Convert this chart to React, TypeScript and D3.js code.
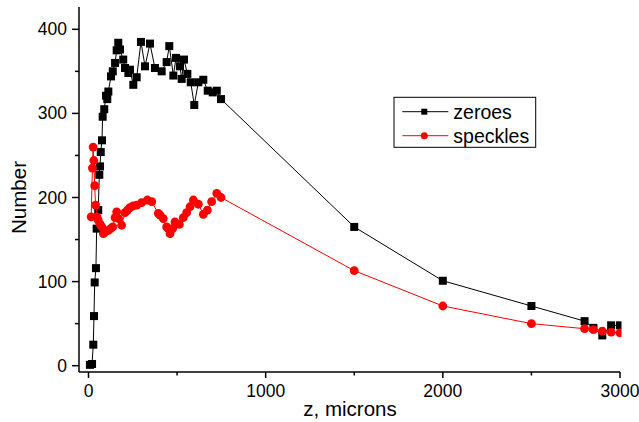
import React from "react";
import * as d3 from "d3";

const zeroesX = [8, 20, 27, 31, 35, 42, 46, 55, 61, 65, 69, 76, 80, 89, 99, 106, 112, 127, 137, 150, 159, 168, 178, 196, 206, 225, 234, 253, 272, 296, 319, 347, 375, 413, 441, 456, 479, 494, 516, 526, 539, 558, 577, 597, 620, 648, 673, 701, 724, 748, 1500, 2000, 2500, 2800, 2850, 2900, 2950, 3000];
const zeroesY = [1, 2, 25, 59, 99, 116, 163, 185, 227, 237, 254, 268, 296, 305, 321, 317, 326, 344, 350, 360, 375, 384, 376, 364, 354, 348, 352, 334, 343, 385, 356, 383, 354, 350, 361, 380, 345, 366, 356, 341, 364, 347, 337, 310, 337, 340, 327, 325, 327, 317, 165, 101, 71, 53, 45, 36, 48, 48];

const speckX = [15, 22, 26, 30, 35, 40, 48, 55, 66, 75, 84, 95, 112, 125, 137, 150, 159, 170, 187, 206, 220, 234, 252, 272, 300, 332, 357, 394, 404, 422, 441, 450, 460, 475, 488, 513, 535, 554, 573, 592, 620, 648, 671, 695, 724, 748, 1500, 2000, 2500, 2800, 2850, 2900, 2950, 3000];
const speckY = [177, 235, 260, 244, 214, 191, 177, 173, 168, 165, 157, 159, 161, 163, 165, 176, 183, 175, 167, 182, 185, 188, 190, 191, 194, 197, 195, 181, 179, 175, 165, 163, 157, 163, 171, 168, 176, 182, 189, 197, 192, 180, 185, 195, 205, 200, 113, 71, 50, 44, 43, 41, 40, 39];

const xMajor = [0, 1000, 2000, 3000];
const xMinor = [500, 1500, 2500];
const yMajor = [0, 100, 200, 300, 400];
const yMinor = [50, 150, 250, 350];
const seriesNames = ["zeroes", "speckles"];

const W = 639;
const H = 422;
const FONT = "'Liberation Sans', Arial, sans-serif";

export default function App() {
  const x = d3.scaleLinear().domain([0, 3000]).range([88.5, 620]);
  const y = d3.scaleLinear().domain([0, 400]).range([365.7, 29.3]);
  const axisX = 79;
  const axisY = 372;
  const topY = 7;
  const rightX = 620;

  const zeroes = zeroesX.map((v, i) => [v, zeroesY[i]] as [number, number]);
  const speck = speckX.map((v, i) => [v, speckY[i]] as [number, number]);
  const line = d3
    .line<[number, number]>()
    .x((d) => x(d[0]))
    .y((d) => y(d[1]));

  return (
    <svg
      width={W}
      height={H}
      style={{ position: "absolute", left: 0, top: 0, background: "#fff" }}
      fontFamily={FONT}
    >
      <rect x={0} y={0} width={W} height={H} fill="#fff" />
      <defs>
        <clipPath id="plotclip">
          <rect x={axisX} y={topY - 5} width={rightX + 1.5 - axisX} height={axisY - topY + 5} />
        </clipPath>
      </defs>
      <g clipPath="url(#plotclip)">
        <path d={line(zeroes) || ""} fill="none" stroke="#000" strokeWidth={1} />
        {zeroes.map((d, i) => (
          <rect key={"z" + i} x={x(d[0]) - 4} y={y(d[1]) - 4} width={8} height={8} fill="#000" />
        ))}
        <path d={line(speck) || ""} fill="none" stroke="#ff0000" strokeWidth={1} />
        {speck.map((d, i) => (
          <circle key={"s" + i} cx={x(d[0])} cy={y(d[1])} r={4.4} fill="#ff0000" />
        ))}
      </g>
      {/* axes */}
      <line x1={axisX} x2={rightX} y1={axisY} y2={axisY} stroke="#000" strokeWidth={1.5} />
      <line x1={axisX} x2={axisX} y1={topY} y2={axisY} stroke="#000" strokeWidth={1.5} />
      {xMajor.map((t) => (
        <g key={"xm" + t}>
          <line x1={x(t)} x2={x(t)} y1={axisY} y2={axisY + 6} stroke="#000" strokeWidth={1.5} />
          <text x={x(t)} y={396.5} fontSize={17.5} textAnchor="middle" fill="#000">
            {t}
          </text>
        </g>
      ))}
      {xMinor.map((t) => (
        <line key={"xn" + t} x1={x(t)} x2={x(t)} y1={axisY} y2={axisY + 3.5} stroke="#000" strokeWidth={1.5} />
      ))}
      {yMajor.map((t) => (
        <g key={"ym" + t}>
          <line x1={axisX - 7} x2={axisX} y1={y(t)} y2={y(t)} stroke="#000" strokeWidth={1.5} />
          <text x={67} y={y(t) + 6} fontSize={17.5} textAnchor="end" fill="#000">
            {t}
          </text>
        </g>
      ))}
      {yMinor.map((t) => (
        <line key={"yn" + t} x1={axisX - 4} x2={axisX} y1={y(t)} y2={y(t)} stroke="#000" strokeWidth={1.5} />
      ))}
      <text x={350} y={416} fontSize={20.5} textAnchor="middle" fill="#000">
        z, microns
      </text>
      <text
        transform={`translate(26,${(topY + axisY) / 2 + 8}) rotate(-90)`}
        fontSize={20.5}
        textAnchor="middle"
        fill="#000"
      >
        Number
      </text>
      {/* legend */}
      <rect x={394} y={97.3} width={141.7} height={50} fill="#fff" stroke="#000" strokeWidth={1} />
      <line x1={402.3} x2={448.3} y1={111.7} y2={111.7} stroke="#000" strokeWidth={1} />
      <rect x={424.3 - 3} y={111.7 - 3} width={6} height={6} fill="#000" />
      <text x={453.3} y={118.5} fontSize={19.5} fill="#000">
        {seriesNames[0]}
      </text>
      <line x1={402.3} x2={448.3} y1={135.7} y2={135.7} stroke="#ff0000" strokeWidth={1} />
      <circle cx={424.3} cy={135.7} r={3.5} fill="#ff0000" />
      <text x={453.3} y={142.5} fontSize={19.5} fill="#000">
        {seriesNames[1]}
      </text>
    </svg>
  );
}
